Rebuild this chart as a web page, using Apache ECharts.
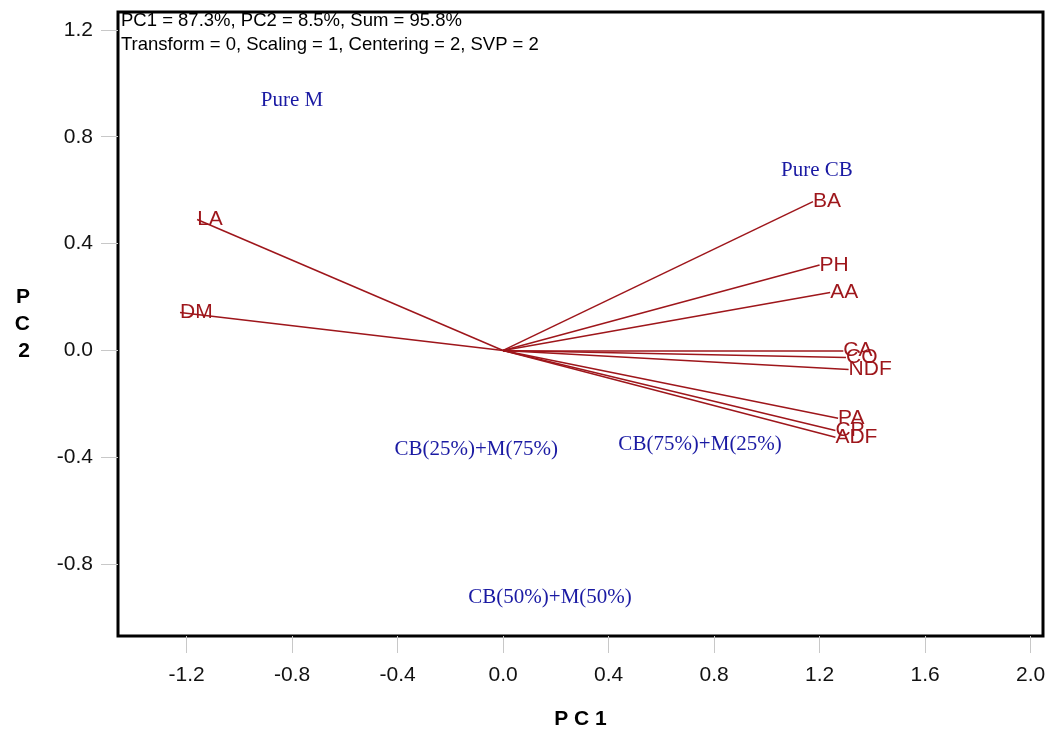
<!DOCTYPE html>
<html>
<head>
<meta charset="utf-8">
<script src="https://cdn.jsdelivr.net/npm/echarts@6/dist/echarts.min.js"></script>
<style>
  html, body { margin: 0; padding: 0; background: #fff; }
  #main { width: 1052px; height: 735px; }
</style>
</head>
<body>
<div id="main"></div>
<script>
// loadings (red vectors)
var loadingNames = ['LA', 'DM', 'BA', 'PH', 'AA', 'CA', 'CO', 'NDF', 'PA', 'CP', 'ADF'];
var loadingPC1 = [-1.16, -1.225, 1.175, 1.20, 1.24, 1.29, 1.30, 1.31, 1.27, 1.26, 1.26];
var loadingPC2 = [0.49, 0.142, 0.557, 0.32, 0.217, 0.0, -0.026, -0.071, -0.254, -0.30, -0.325];

// sample scores (blue labels)
var sampleNames = ['Pure M', 'Pure CB', 'CB(25%)+M(75%)', 'CB(75%)+M(25%)', 'CB(50%)+M(50%)'];
var samplePC1 = [-0.80, 1.19, -0.102, 0.747, 0.178];
var samplePC2 = [0.935, 0.673, -0.37, -0.351, -0.923];

var xTicks = [-1.2, -0.8, -0.4, 0.0, 0.4, 0.8, 1.2, 1.6, 2.0];
var yTicks = [-0.8, -0.4, 0.0, 0.4, 0.8, 1.2];

var red = '#9e161b';
var blue = '#1a1aa3';

var vectorData = loadingNames.map(function (n, i) {
    return { coords: [[0, 0], [loadingPC1[i], loadingPC2[i]]] };
});
var endData = loadingNames.map(function (n, i) {
    return { name: n, value: [loadingPC1[i], loadingPC2[i]] };
});
var sampleData = sampleNames.map(function (n, i) {
    return { name: n, value: [samplePC1[i], samplePC2[i]] };
});

var myChart = echarts.init(document.getElementById('main'));
var option = {
    animation: false,
    title: {
        text: 'PC1 = 87.3%, PC2 = 8.5%, Sum = 95.8%\nTransform = 0, Scaling = 1, Centering = 2, SVP = 2',
        left: 121,
        top: 9,
        padding: 0,
        textStyle: {
            fontFamily: 'Liberation Sans',
            fontSize: 18.5,
            fontWeight: 'normal',
            color: '#000',
            lineHeight: 24
        }
    },
    grid: {
        show: true,
        left: 118,
        right: 9,
        top: 12,
        bottom: 97,
        borderColor: '#000',
        borderWidth: 3
    },
    xAxis: {
        type: 'value',
        min: -1.46,
        max: 2.047,
        name: 'P C 1',
        nameLocation: 'middle',
        nameGap: 73,
        nameTextStyle: { fontFamily: 'Liberation Sans', fontSize: 21, fontWeight: 'bold', color: '#000' },
        axisLine: { show: false, onZero: false },
        splitLine: { show: false },
        axisTick: { show: true, length: 17, customValues: xTicks, lineStyle: { color: '#c8c8c8' } },
        axisLabel: {
            customValues: xTicks,
            margin: 29,
            fontFamily: 'Liberation Sans',
            fontSize: 21,
            color: '#111',
            formatter: function (v) { return v.toFixed(1); }
        }
    },
    yAxis: {
        type: 'value',
        min: -1.069,
        max: 1.267,
        name: 'P\nC\n2',
        nameLocation: 'middle',
        nameRotate: 0,
        nameGap: 88,
        nameTextStyle: { fontFamily: 'Liberation Sans', fontSize: 21, fontWeight: 'bold', color: '#000', lineHeight: 27, padding: [0, 0, 14, 0] },
        axisLine: { show: false, onZero: false },
        splitLine: { show: false },
        axisTick: { show: true, length: 17, customValues: yTicks, lineStyle: { color: '#c8c8c8' } },
        axisLabel: {
            customValues: yTicks,
            margin: 25,
            fontFamily: 'Liberation Sans',
            fontSize: 21,
            color: '#111',
            formatter: function (v) { return v.toFixed(1); }
        }
    },
    series: [
        {
            type: 'lines',
            coordinateSystem: 'cartesian2d',
            silent: true,
            lineStyle: { color: red, width: 1.5, opacity: 1 },
            data: vectorData
        },
        {
            type: 'scatter',
            silent: true,
            symbolSize: 0,
            itemStyle: { color: red, opacity: 1 },
            label: {
                show: true,
                position: 'right',
                distance: 0,
                formatter: '{b}',
                fontFamily: 'Liberation Sans',
                fontSize: 21,
                color: red,
                opacity: 1
            },
            data: endData
        },
        {
            type: 'scatter',
            silent: true,
            symbolSize: 0,
            itemStyle: { color: blue, opacity: 1 },
            label: {
                show: true,
                position: 'inside',
                formatter: '{b}',
                fontFamily: 'Liberation Serif',
                fontSize: 21,
                color: blue,
                opacity: 1,
                textBorderWidth: 0
            },
            data: sampleData
        }
    ]
};
myChart.setOption(option);
</script>
</body>
</html>
